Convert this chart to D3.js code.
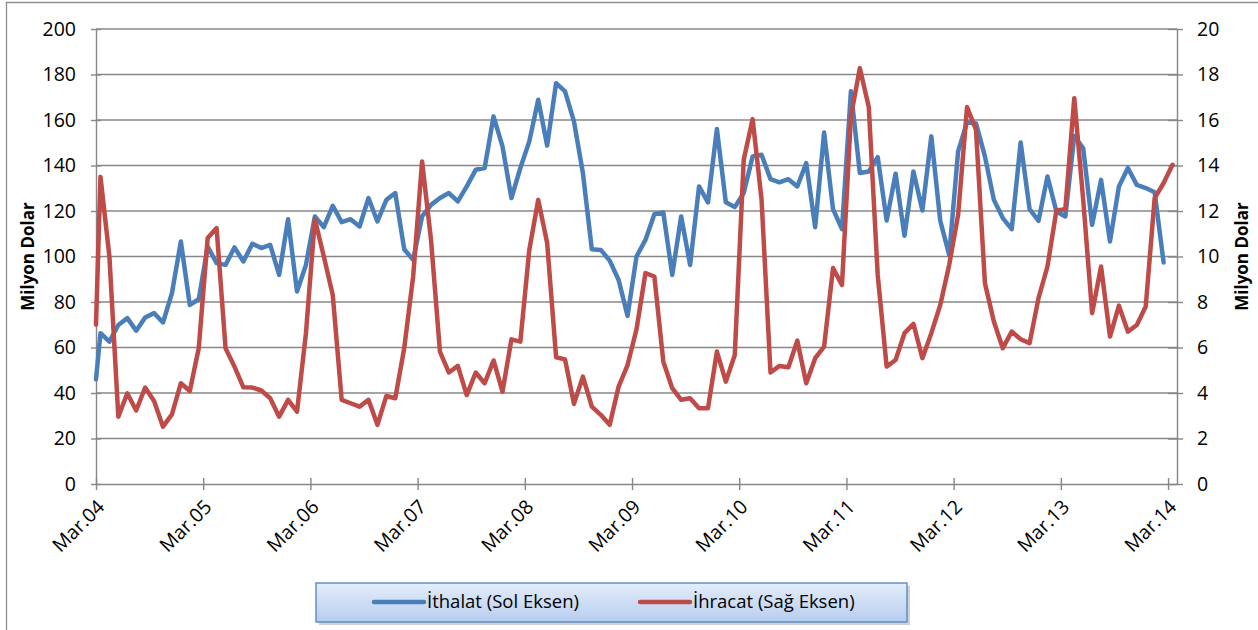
<!DOCTYPE html>
<html>
<head>
<meta charset="utf-8">
<script src="https://cdn.jsdelivr.net/npm/d3@7"></script>
<style>
  body { margin: 0; background: #fff; }
  svg text { font-family: 'Open Sans', sans-serif; fill: #000; }
</style>
</head>
<body>
<div id="chart"></div>
<script>
(function () {
  // x axis labels, one every 12 months
  let tickLabels = ['Mar.04', 'Mar.05', 'Mar.06', 'Mar.07', 'Mar.08', 'Mar.09',
    'Mar.10', 'Mar.11', 'Mar.12', 'Mar.13', 'Mar.14'];
  let leftTicks = [0, 20, 40, 60, 80, 100, 120, 140, 160, 180, 200];
  let rightTicks = [0, 2, 4, 6, 8, 10, 12, 14, 16, 18, 20];

  // İthalat (left axis), monthly from Mar.04
  let ithalat = [
    66.3, 62.6, 69.9, 72.9, 67.4, 73.2, 75.1, 71.0, 83.9, 106.6, 78.7, 81.2,
    104.4, 97.1, 96.3, 104.0, 97.8, 105.6, 103.7, 105.1, 91.9, 116.4, 84.6, 96.3,
    117.6, 112.9, 122.3, 115.1, 116.4, 113.2, 125.7, 115.4, 124.9, 127.9, 103.2, 98.5,
    117.6, 122.7, 125.7, 127.9, 124.2, 130.8, 138.1, 138.9, 161.6, 148.4, 125.7, 138.9,
    150.6, 168.9, 148.8, 176.2, 172.6, 159.4, 136.7, 103.2, 102.9, 98.2, 89.7, 73.9,
    100.0, 107.3, 118.6, 119.4, 91.9, 117.6, 96.3, 130.8, 123.8, 156.0, 123.8, 121.7,
    127.9, 144.0, 144.7, 134.0, 132.6, 134.0, 130.8, 141.1, 112.9, 154.5, 120.8, 112.0,
    172.6, 136.7, 137.4, 143.7, 115.8, 136.4, 109.1, 137.4, 120.2, 152.8, 115.7, 100.7,
    146.2, 159.0, 158.5, 144.0, 124.9, 116.9, 112.0, 150.1, 120.8, 115.7, 135.2, 119.8,
    117.6, 153.0, 147.6, 113.9, 133.7, 106.6, 130.8, 138.9, 131.5, 130.1, 128.2, 97.4
  ];

  // İhracat (right axis), monthly from Mar.04
  let ihracat = [
    13.5, 10.0, 2.96, 3.99, 3.23, 4.24, 3.65, 2.52, 3.06, 4.43, 4.09, 5.97,
    10.81, 11.25, 5.97, 5.16, 4.25, 4.24, 4.11, 3.77, 2.96, 3.70, 3.18, 6.63,
    11.64, 10.0, 8.31, 3.70, 3.55, 3.40, 3.70, 2.60, 3.87, 3.77, 5.97, 9.12,
    14.18, 10.73, 5.82, 4.90, 5.19, 3.91, 4.90, 4.43, 5.43, 4.06, 6.36, 6.26,
    10.29, 12.49, 10.59, 5.57, 5.48, 3.52, 4.72, 3.40, 3.04, 2.60, 4.28, 5.23,
    6.8, 9.27, 9.12, 5.38, 4.21, 3.70, 3.77, 3.33, 3.33, 5.82, 4.50, 5.67,
    14.25, 16.04, 12.49, 4.90, 5.19, 5.13, 6.30, 4.43, 5.53, 6.04, 9.49, 8.75,
    16.16, 18.28, 16.57, 9.19, 5.16, 5.45, 6.63, 7.04, 5.53, 6.63, 7.87, 9.63,
    11.83, 16.57, 15.57, 8.83, 7.14, 5.97, 6.70, 6.36, 6.19, 8.17, 9.56, 12.02,
    12.08, 16.96, 12.5, 7.51, 9.56, 6.48, 7.84, 6.70, 6.99, 7.80, 12.57, 13.23,
    14.03
  ];

  // value where each line meets the left edge of the plot
  let ithalatStart = 46;
  let ihracatStart = 7.0;

  let margin = { top: 29, right: 81, bottom: 146, left: 96 };
  let width = 1258 - margin.left - margin.right;
  let height = 630 - margin.top - margin.bottom;
  let gridColor = '#878787';

  let svg = d3
    .select('#chart')
    .append('svg')
    .attr('width', 1258)
    .attr('height', 630);

  // outer chart frame
  svg
    .append('path')
    .attr('d', 'M6.5,640 V2.5 H1270')
    .attr('fill', 'none')
    .attr('stroke', '#8e8e8e')
    .attr('stroke-width', 1.3);

  let x = d3.scaleLinear().domain([0, 121]).range([0, width]);
  let yLeft = d3.scaleLinear().domain([0, 200]).range([height, 0]);
  let yRight = d3.scaleLinear().domain([0, 20]).range([height, 0]);

  let diagram = svg
    .append('g')
    .attr('transform', `translate(${margin.left}, ${margin.top})`);

  // horizontal gridlines
  diagram
    .append('g')
    .selectAll('line')
    .data(leftTicks.slice(1))
    .enter()
    .append('line')
    .attr('x1', 0)
    .attr('x2', width)
    .attr('y1', (d) => yLeft(d))
    .attr('y2', (d) => yLeft(d))
    .attr('stroke', gridColor)
    .attr('stroke-width', 1.4);

  let leftAxis = diagram
    .append('g')
    .call(d3.axisLeft(yLeft).tickValues(leftTicks).tickSizeInner(5).tickSizeOuter(0).tickPadding(15));

  let rightAxis = diagram
    .append('g')
    .attr('transform', `translate(${width}, 0)`)
    .call(d3.axisRight(yRight).tickValues(rightTicks).tickSizeInner(6).tickSizeOuter(0).tickPadding(14));

  let bottomAxis = diagram
    .append('g')
    .attr('transform', `translate(0, ${height})`)
    .call(
      d3
        .axisBottom(x)
        .tickValues(tickLabels.map((d, i) => i * 12))
        .tickFormat((d, i) => tickLabels[i])
        .tickSizeInner(6)
        .tickSizeOuter(0)
    );

  // cross-style tick marks
  leftAxis.selectAll('.tick line').attr('x1', 5);
  rightAxis.selectAll('.tick line').attr('x1', -9);
  bottomAxis.selectAll('.tick line').attr('y1', -6);

  [leftAxis, rightAxis, bottomAxis].forEach((a) => {
    a.select('.domain').attr('stroke', gridColor).attr('stroke-width', 1.4);
    a.selectAll('.tick line').attr('stroke', gridColor).attr('stroke-width', 1.4);
    a.selectAll('text').attr('font-size', 19.5).attr('font-family', "'Open Sans', sans-serif");
  });

  bottomAxis
    .selectAll('text')
    .attr('text-anchor', 'end')
    .attr('dy', '0.35em')
    .attr('transform', 'translate(-2, 13) rotate(-45)');

  // axis titles
  diagram
    .append('text')
    .attr('transform', `translate(${-62}, ${height / 2}) rotate(-90)`)
    .attr('text-anchor', 'middle')
    .attr('font-size', 17)
    .attr('font-weight', 'bold')
    .text('Milyon Dolar');

  diagram
    .append('text')
    .attr('transform', `translate(${width + 71}, ${height / 2}) rotate(-90)`)
    .attr('text-anchor', 'middle')
    .attr('font-size', 17)
    .attr('font-weight', 'bold')
    .text('Milyon Dolar');

  let toPoints = (start, values) =>
    [{ m: 0, v: start }].concat(values.map((v, k) => ({ m: k + 0.5, v: v })));

  let lineLeft = d3
    .line()
    .x((d) => x(d.m))
    .y((d) => yLeft(d.v));

  let lineRight = d3
    .line()
    .x((d) => x(d.m))
    .y((d) => yRight(d.v));

  diagram
    .append('path')
    .datum(toPoints(ithalatStart, ithalat))
    .attr('d', lineLeft)
    .attr('fill', 'none')
    .attr('stroke', '#4a7ebb')
    .attr('stroke-width', 4.5)
    .attr('stroke-linejoin', 'round')
    .attr('stroke-linecap', 'round');

  diagram
    .append('path')
    .datum(toPoints(ihracatStart, ihracat))
    .attr('d', lineRight)
    .attr('fill', 'none')
    .attr('stroke', '#be4b48')
    .attr('stroke-width', 4.5)
    .attr('stroke-linejoin', 'round')
    .attr('stroke-linecap', 'round');

  // legend
  let defs = svg.append('defs');
  let grad = defs
    .append('linearGradient')
    .attr('id', 'legendFill')
    .attr('x1', 0)
    .attr('y1', 0)
    .attr('x2', 0)
    .attr('y2', 1);
  grad.append('stop').attr('offset', '0%').attr('stop-color', '#e4edfa');
  grad.append('stop').attr('offset', '100%').attr('stop-color', '#b7cdef');

  let legend = svg.append('g').attr('transform', 'translate(316, 583)');

  legend
    .append('rect')
    .attr('x', 3)
    .attr('y', 3)
    .attr('width', 591)
    .attr('height', 39)
    .attr('fill', '#b3b3b3')
    .attr('opacity', 0.6);

  legend
    .append('rect')
    .attr('width', 591)
    .attr('height', 39)
    .attr('fill', 'url(#legendFill)')
    .attr('stroke', '#4f81bd')
    .attr('stroke-width', 1.3);

  let legendItems = [
    { label: 'İthalat (Sol Eksen)', color: '#4a7ebb', x: 58 },
    { label: 'İhracat (Sağ Eksen)', color: '#be4b48', x: 324 }
  ];

  let item = legend
    .selectAll('.item')
    .data(legendItems)
    .enter()
    .append('g')
    .attr('transform', (d) => `translate(${d.x}, 19)`);

  item
    .append('line')
    .attr('x1', 0)
    .attr('x2', 50)
    .attr('stroke', (d) => d.color)
    .attr('stroke-width', 4.5)
    .attr('stroke-linecap', 'round');

  item
    .append('text')
    .attr('x', 53)
    .attr('dy', '0.35em')
    .attr('font-size', 18.5)
    .text((d) => d.label);
})();
</script>
</body>
</html>
